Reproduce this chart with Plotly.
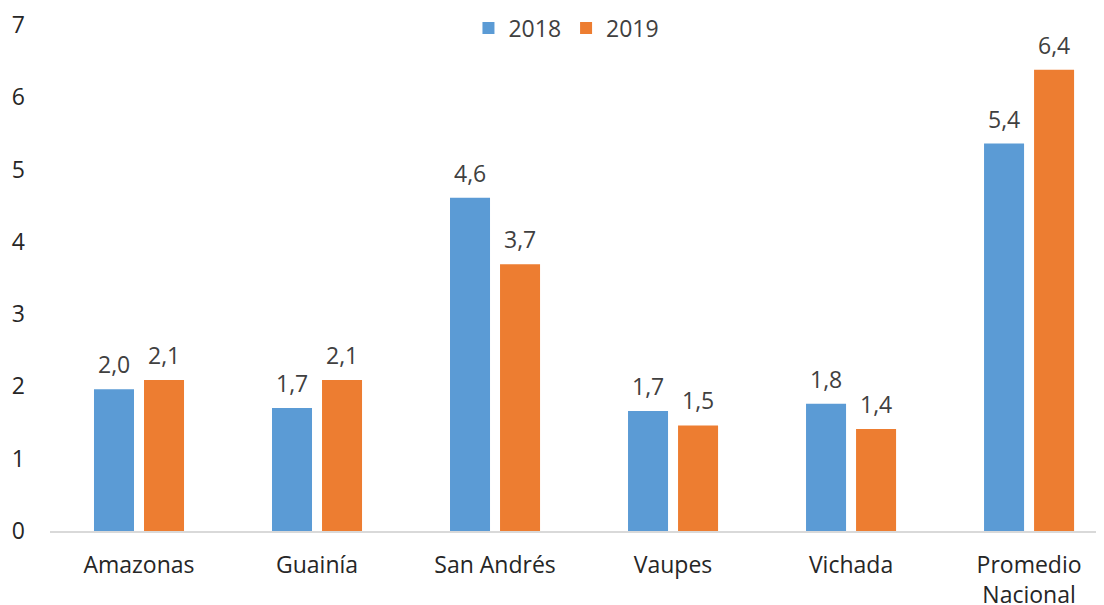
import plotly.graph_objects as go

categories = ["Amazonas", "Guainía", "San Andrés", "Vaupes", "Vichada", "Promedio<br>Nacional"]
v2018 = [1.96, 1.70, 4.61, 1.66, 1.76, 5.36]
v2019 = [2.09, 2.09, 3.69, 1.46, 1.41, 6.38]
series = [("2018", v2018, "#5B9BD5", -25), ("2019", v2019, "#ED7D31", 25)]

FONT = "Open Sans"
FS = 23
fig = go.Figure()
for name, vals, color, _ in series:
    fig.add_trace(go.Bar(name=name, x=categories, y=vals, marker_color=color,
                         marker_line_width=0))

annotations = []
for name, vals, color, dx in series:
    for c, v in zip(categories, vals):
        annotations.append(dict(x=c, y=v, xref="x", yref="y", text=f"{v:.1f}".replace(".", ","),
                                showarrow=False, xshift=dx, yshift=25,
                                font=dict(family=FONT, size=FS, color="#404040")))

# page body has an 8px default margin, so the figure is 8px smaller and margins offset
fig.update_layout(
    width=1096, height=597,
    margin=dict(l=42, r=0, t=17, b=74, autoexpand=False),
    paper_bgcolor="white", plot_bgcolor="white",
    bargap=0.438, bargroupgap=0.2,
    font=dict(family=FONT, size=FS, color="#262626"),
    legend=dict(orientation="h", x=0.49, xanchor="center", y=0.994, yanchor="middle",
                font=dict(size=FS, color="#404040"), bgcolor="rgba(0,0,0,0)",
                itemwidth=30, tracegroupgap=0),
    annotations=annotations,
    showlegend=True,
)
fig.update_xaxes(range=[-0.5, 5.421], showline=True, linecolor="#D9D9D9", linewidth=2,
                 ticks="", tickfont=dict(size=FS, color="#262626"), ticklabelstandoff=12,
                 automargin=False)
fig.update_yaxes(range=[0, 7], dtick=1, showgrid=False, zeroline=False, showline=False,
                 tickfont=dict(size=FS, color="#262626"), ticklabelstandoff=24,
                 automargin=False)

fig.write_html("out.html")
